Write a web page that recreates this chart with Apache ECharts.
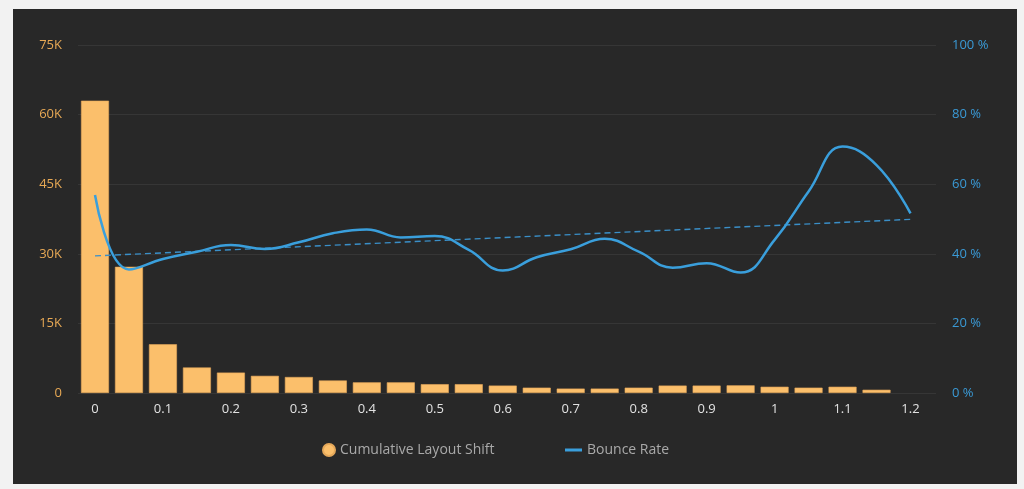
<!DOCTYPE html>
<html>
<head>
<meta charset="utf-8">
<script src="https://cdn.jsdelivr.net/npm/echarts@6/dist/echarts.min.js"></script>
<style>
  html, body { margin: 0; padding: 0; background: #f2f2f2; width: 1024px; height: 489px; overflow: hidden; }
  #panel { position: absolute; left: 13px; top: 9px; width: 1004px; height: 475px; background: #282828; }
  #chart { width: 1004px; height: 475px; }
</style>
</head>
<body>
<div id="panel"><div id="chart"></div></div>
<script>
// CLS bins (x positions)
const shiftBins = [0, 0.05, 0.1, 0.15, 0.2, 0.25, 0.3, 0.35, 0.4, 0.45, 0.5, 0.55, 0.6,
                   0.65, 0.7, 0.75, 0.8, 0.85, 0.9, 0.95, 1.0, 1.05, 1.1, 1.15, 1.2];
// page view counts per bin
const clsCounts = [63000, 27200, 10500, 5500, 4400, 3700, 3450, 2700, 2300, 2300, 1900, 1900, 1600,
                   1150, 950, 950, 1150, 1600, 1600, 1650, 1350, 1150, 1350, 700, null];
// bounce rate (%) per bin
const bounceRate = [56.9, 35.5, 38.5, 40.6, 42.5, 41.4, 43.3, 45.9, 47.0, 44.7, 45.1, 41.1, 35.2,
                    39.0, 41.3, 44.3, 40.6, 36.0, 37.3, 34.6, 44.0, 57.9, 70.8, 65.5, 51.6];
// trend line end points
const trendX = [0, 1.2];
const trendY = [39.4, 49.9];
// tick labels
const xTicks = [0, 0.1, 0.2, 0.3, 0.4, 0.5, 0.6, 0.7, 0.8, 0.9, 1.0, 1.1, 1.2];

const FONT = '"Open Sans", Lato, sans-serif';
const barColor = '#fbbf6b';
const lineColor = '#3a9fdc';

const chart = echarts.init(document.getElementById('chart'), null, { renderer: 'canvas' });
chart.setOption({
  animation: false,
  backgroundColor: '#282828',
  textStyle: { fontFamily: FONT },
  grid: { left: 65, right: 81, top: 36, bottom: 91, containLabel: false },
  legend: [
    {
      data: [{ name: 'Cumulative Layout Shift', icon: 'circle' }],
      left: 304, top: 429, itemWidth: 12, itemHeight: 12, itemGap: 8,
      textStyle: { color: '#a9a9a9', fontSize: 14, fontFamily: FONT }
    },
    {
      data: [{ name: 'Bounce Rate', icon: 'rect' }],
      left: 547, top: 429, itemWidth: 17, itemHeight: 3,
      textStyle: { color: '#a9a9a9', fontSize: 14, fontFamily: FONT }
    }
  ],
  xAxis: {
    type: 'value',
    min: -0.025,
    max: 1.2375,
    axisLine: { show: false },
    axisTick: { show: false },
    splitLine: { show: false },
    axisLabel: {
      customValues: xTicks,
      color: '#e2e2e2', fontSize: 13, margin: 10, fontFamily: FONT,
      formatter: v => String(Math.round(v * 10) / 10)
    }
  },
  yAxis: [
    {
      type: 'value', min: 0, max: 75000, interval: 15000,
      axisLine: { show: false }, axisTick: { show: false },
      splitLine: { lineStyle: { color: '#363636', width: 1 } },
      axisLabel: {
        color: '#e8a955', fontSize: 13, margin: 16, fontFamily: FONT,
        formatter: v => v === 0 ? '0' : (v / 1000) + 'K'
      }
    },
    {
      type: 'value', min: 0, max: 100, interval: 20,
      axisLine: { show: false }, axisTick: { show: false },
      splitLine: { show: false },
      axisLabel: { color: '#3a9ad6', fontSize: 13, margin: 16, fontFamily: FONT, formatter: '{value} %' }
    }
  ],
  series: [
    {
      name: 'Cumulative Layout Shift',
      type: 'bar',
      barWidth: 28,
      itemStyle: { color: barColor, borderColor: '#e5a85a', borderWidth: 0.6 },
      data: shiftBins.map((x, i) => [x, clsCounts[i]])
    },
    {
      name: 'Bounce Rate',
      type: 'line',
      yAxisIndex: 1,
      smooth: 0.45,
      showSymbol: false,
      lineStyle: { color: lineColor, width: 2.5 },
      itemStyle: { color: lineColor },
      data: shiftBins.map((x, i) => [x, bounceRate[i]]),
      z: 3
    },
    {
      name: 'Trend',
      type: 'line',
      yAxisIndex: 1,
      showSymbol: false,
      lineStyle: { color: '#3a8fc8', width: 1.4, type: [6, 4] },
      data: trendX.map((x, i) => [x, trendY[i]]),
      z: 2
    }
  ]
});
</script>
</body>
</html>
